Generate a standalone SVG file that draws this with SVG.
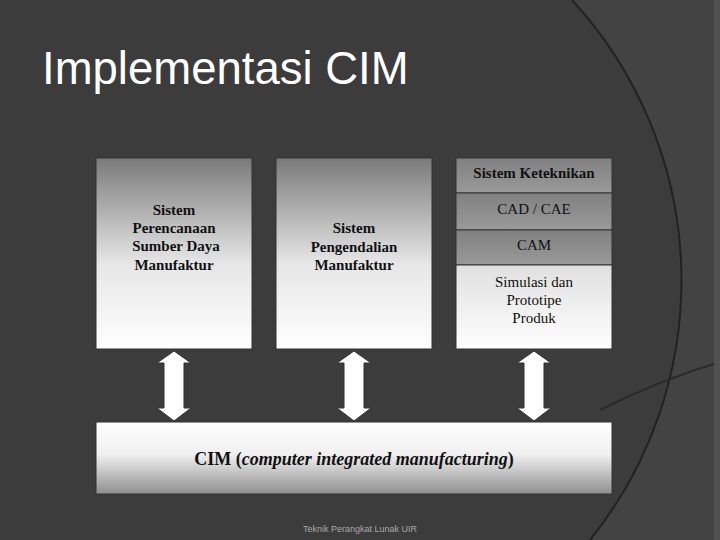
<svg xmlns="http://www.w3.org/2000/svg" width="720" height="540" viewBox="0 0 720 540">
<defs>
<linearGradient id="gd" x1="0" y1="0" x2="0" y2="1"><stop offset="0" stop-color="#7a7a7a"/><stop offset="0.55" stop-color="#e6e6e6"/><stop offset="1" stop-color="#ffffff"/></linearGradient>
<linearGradient id="gr" x1="0" y1="0" x2="0" y2="1"><stop offset="0" stop-color="#808080"/><stop offset="1" stop-color="#9a9a9a"/></linearGradient>
<linearGradient id="gs" x1="0" y1="0" x2="0" y2="1"><stop offset="0" stop-color="#e0e0e0"/><stop offset="1" stop-color="#ffffff"/></linearGradient>
<linearGradient id="gc" x1="0" y1="0" x2="0" y2="1"><stop offset="0" stop-color="#ffffff"/><stop offset="0.45" stop-color="#f0f0f0"/><stop offset="1" stop-color="#8e8e8e"/></linearGradient>
<style>
.bx{stroke:#333;stroke-width:1}
.b{font-family:'Liberation Serif','DejaVu Serif',serif;font-weight:bold;font-size:15px;fill:#111;text-anchor:middle}
.r{font-family:'Liberation Serif','DejaVu Serif',serif;font-size:15px;fill:#111;text-anchor:middle}
.ar{fill:#fff;stroke:#333;stroke-width:1}
</style>
</defs>
<rect width="720" height="540" fill="#3c3c3c"/>
<path d="M672 0 L720 0 L720 540 L590 540 A414 414 0 0 0 572 0 Z" fill="#434343"/>
<path d="M572 0 A414 414 0 0 1 590 540" fill="none" stroke="#222" stroke-width="2"/>
<path d="M600 410 Q660 380 720 362" fill="none" stroke="#2a2a2a" stroke-width="2"/>
<rect x="714" y="0" width="6" height="540" fill="#505050"/>
<text x="42" y="84" font-family="'Liberation Sans',sans-serif" font-size="45.5" fill="#fff">Implementasi CIM</text>
<g id="n1"><rect class="bx" x="96" y="158" width="156" height="191" fill="url(#gd)"/>
<text class="b" x="174" y="215">Sistem</text><text class="b" x="174" y="233">Perencanaan</text><text class="b" x="176" y="251">Sumber Daya</text><text class="b" x="174" y="270">Manufaktur</text></g>
<g id="n2"><rect class="bx" x="276" y="158" width="156" height="191" fill="url(#gd)"/>
<text class="b" x="354" y="233">Sistem</text><text class="b" x="354" y="252">Pengendalian</text><text class="b" x="354" y="270">Manufaktur</text></g>
<g id="n3"><rect class="bx" x="456" y="158" width="156" height="35" fill="url(#gr)"/>
<text class="b" x="534" y="178">Sistem Keteknikan</text>
<rect class="bx" x="456" y="193" width="156" height="37" fill="url(#gr)"/>
<text class="r" x="534" y="214">CAD / CAE</text>
<rect class="bx" x="456" y="230" width="156" height="35" fill="url(#gr)"/>
<text class="r" x="534" y="250">CAM</text>
<rect class="bx" x="456" y="265" width="156" height="84" fill="url(#gs)"/>
<text class="r" x="534" y="287">Simulasi dan</text><text class="r" x="534" y="305">Prototipe</text><text class="r" x="534" y="323">Produk</text></g>
<g id="n4"><rect class="bx" x="96" y="422" width="516" height="72" fill="url(#gc)"/>
<text x="354" y="465" font-family="'Liberation Serif','DejaVu Serif',serif" font-size="18" font-weight="bold" fill="#111" text-anchor="middle">CIM (<tspan font-style="italic">computer integrated manufacturing</tspan>)</text></g>
<g id="connectors">
<path class="ar" d="M174 351 L191 363 L184 363 L184 408 L191 408 L174 421 L157 408 L164 408 L164 363 L157 363 Z"/>
<path class="ar" d="M354 351 L371 363 L364 363 L364 408 L371 408 L354 421 L337 408 L344 408 L344 363 L337 363 Z"/>
<path class="ar" d="M534 351 L551 363 L544 363 L544 408 L551 408 L534 421 L517 408 L524 408 L524 363 L517 363 Z"/>
</g>
<text x="360" y="532" font-family="'Liberation Sans',sans-serif" font-size="9" fill="#aaa" text-anchor="middle">Teknik Perangkat Lunak UIR</text>
</svg>
